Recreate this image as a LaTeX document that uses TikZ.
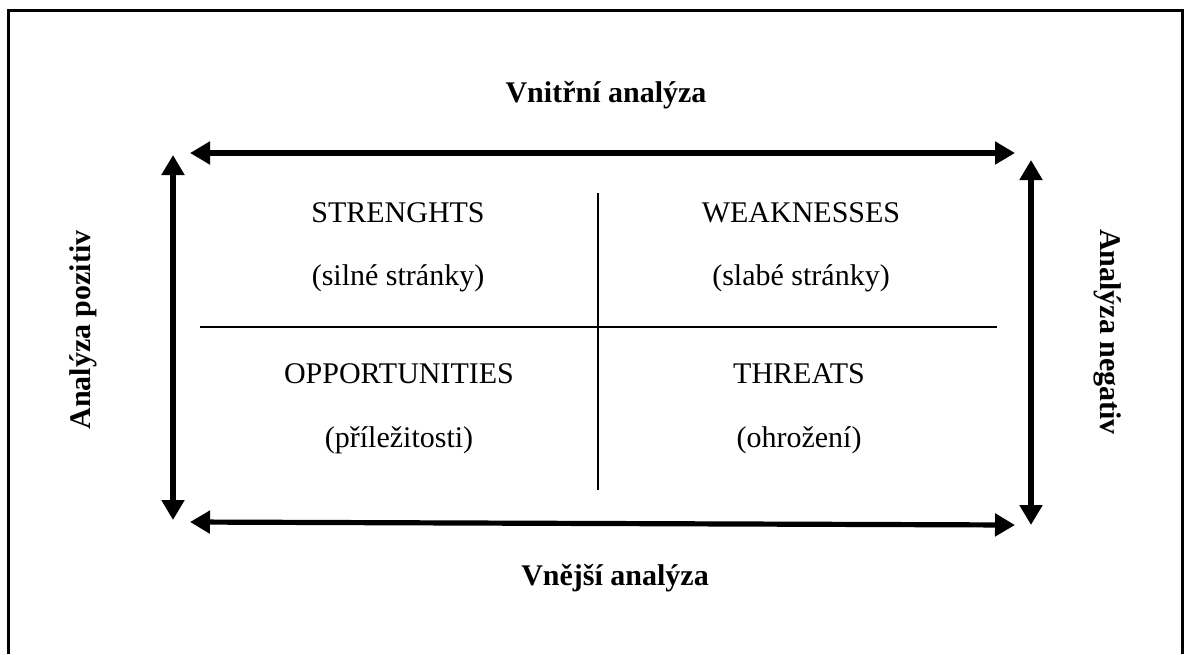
\documentclass[tikz,border=0pt]{standalone}
\usepackage{fontspec}
\setmainfont{Liberation Serif}
\usetikzlibrary{arrows.meta}

\begin{document}
\begin{tikzpicture}
        [x=0.5pt, y=-0.5pt,
        quadtext/.style={anchor=base, font=\fontsize{15}{18}\selectfont},
        axistext/.style={anchor=base, font=\fontsize{15}{18}\selectfont\bfseries},
        bigarrow/.style={line width=2.6pt, {Triangle[length=10pt,width=11pt]}-{Triangle[length=10pt,width=11pt]}},
        divider/.style={line width=0.7pt},]

        \useasboundingbox (0,0) rectangle (1186,654);
        \draw[line width=1.5pt] (8,654) -- (8,10) -- (1182,10) -- (1182,654);

        % ends of the four arrows
        \coordinate (topL) at (190,153);
        \coordinate (topR) at (1015,153);
        \coordinate (botL) at (190,522);
        \coordinate (botR) at (1015,525);
        \coordinate (leftT) at (173,155);
        \coordinate (leftB) at (173,520);
        \coordinate (rightT) at (1031,160);
        \coordinate (rightB) at (1031,525);

        % ends of the cross
        \coordinate (midT) at (598,193);
        \coordinate (midB) at (598,490);
        \coordinate (midL) at (200,327);
        \coordinate (midR) at (997,327);

        \node[axistext] (inner) at (606,102) {Vnitřní analýza};
        \node[axistext] (outer) at (615,585) {Vnější analýza};
        \node[axistext, rotate=90] (pos) at (90,330) {Analýza pozitiv};
        \node[axistext, rotate=-90] (neg) at (1100,332) {Analýza negativ};

        \node[quadtext] (s) at (398,222) {STRENGHTS};
        \node[quadtext] (s2) at (398,285) {(silné stránky)};
        \node[quadtext] (w) at (801,222) {WEAKNESSES};
        \node[quadtext] (w2) at (801,285) {(slabé stránky)};
        \node[quadtext] (o) at (399,383) {OPPORTUNITIES};
        \node[quadtext] (o2) at (399,447) {(příležitosti)};
        \node[quadtext] (t) at (799,383) {THREATS};
        \node[quadtext] (t2) at (799,447) {(ohrožení)};

        \draw[bigarrow] (topL) -- (topR);
        \draw[bigarrow] (botL) -- (botR);
        \draw[bigarrow] (leftT) -- (leftB);
        \draw[bigarrow] (rightT) -- (rightB);

        \draw[divider] (midT) -- (midB);
        \draw[divider] (midL) -- (midR);

    \end{tikzpicture}
\end{document}
